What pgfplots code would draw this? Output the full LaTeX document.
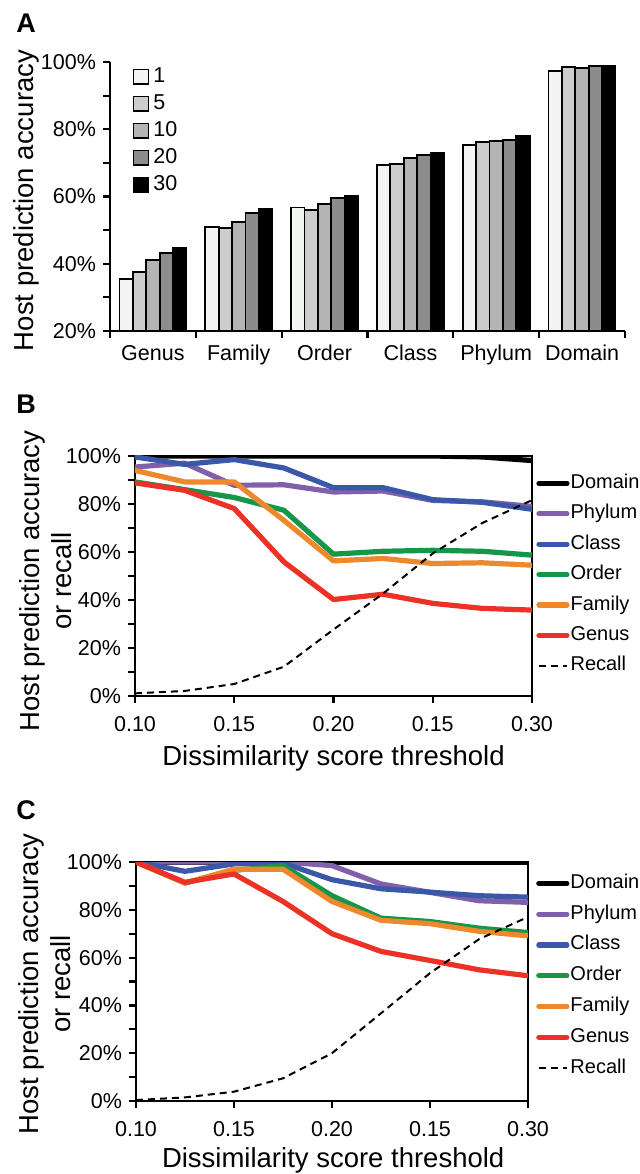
\documentclass[border=0pt]{standalone}
\usepackage{fontspec}
\setmainfont{Liberation Sans}
\usepackage{pgfplots}
\pgfplotsset{compat=1.18}
\definecolor{cPhy}{RGB}{128,96,170}
\definecolor{cCla}{RGB}{59,88,168}
\definecolor{cOrd}{RGB}{22,150,72}
\definecolor{cFam}{RGB}{238,136,44}
\definecolor{cGen}{RGB}{236,50,38}
\definecolor{g1}{RGB}{243,245,243}
\definecolor{g5}{RGB}{205,205,205}
\definecolor{g10}{RGB}{180,180,180}
\definecolor{g20}{RGB}{140,140,140}
\pgfplotsset{
  mystyle/.style={
    scale only axis,
    axis line style={line width=1.2pt},
    tick style={line width=1.1pt, black},
    tick align=outside,
    major tick length=3.5pt,
    minor tick length=3.5pt,
    /pgf/number format/assume math mode=true,
    tick label style={font=\fontsize{10.75}{12}\selectfont},
    label style={font=\fontsize{13.75}{16}\selectfont},
  },
  linestyle/.style={
    ymin=0, ymax=100, xmin=0.1, xmax=0.3,
    xtick={0.1,0.15,0.2,0.25,0.3},
    xticklabels={0.10,0.15,0.20,0.15,0.30},
    xticklabel style={yshift=-3pt},
    ytick={0,20,40,60,80,100}, minor y tick num=1,
    yticklabel={\pgfmathprintnumber{\tick}\%},
    xtick pos=left, ytick pos=left,
    xlabel={Dissimilarity score threshold},
    ylabel={Host prediction accuracy\\or recall},
    legend cell align=left,
    legend image code/.code={\draw[##1] (0pt,0pt) -- (14pt,0pt);},
    every axis plot/.append style={line cap=round, line join=round},
  },
  ser/.style={line width=2.6pt},
}
\begin{document}
\begin{tikzpicture}
\path[use as bounding box] (0,0) rectangle (319.5pt,587pt);
\node[font=\bfseries\fontsize{13.5}{15}\selectfont] at (13pt,575.5pt) {A};
\node[font=\bfseries\fontsize{13.5}{15}\selectfont] at (13pt,385pt) {B};
\node[font=\bfseries\fontsize{13.5}{15}\selectfont] at (13pt,182pt) {C};

% Panel A
\begin{axis}[mystyle,
  at={(55pt,421.5pt)}, anchor=south west,
  width=257.5pt, height=134.5pt,
  ybar=0pt, bar width=6.7pt,
  axis lines*=left,
  ymin=20, ymax=100, ytick={20,40,60,80,100}, minor y tick num=1,
  yticklabel={\pgfmathprintnumber{\tick}\%},
  xmin=-0.5, xmax=5.5,
  xtick={-0.5,0.5,1.5,2.5,3.5,4.5,5.5}, xticklabels={},
  xticklabel style={yshift=-3.5pt},
  extra x ticks={0,1,2,3,4,5},
  extra x tick labels={Genus,Family,Order,Class,Phylum,Domain},
  extra x tick style={major tick length=0pt},
  ylabel={Host prediction accuracy},
  ylabel style={at={(axis description cs:-0.162,0.485)}, anchor=center},
  legend cell align=left,
  legend style={at={(axis description cs:0.043,0.985)}, anchor=north west,
    draw=none, fill=none, font=\fontsize{10.75}{12}\selectfont,
    row sep=3pt, column sep=1.5pt, inner sep=0pt,
    nodes={inner sep=0.5pt, text height=7.5pt, text depth=2pt}},
  legend image code/.code={\draw[#1,/tikz/.cd,line width=0.9pt] (0pt,-3.7pt) rectangle (7.5pt,3.7pt);},
]
\addplot[draw=black, line width=0.9pt, fill=g1] coordinates {(0,35.5) (1,51.0) (2,56.7) (3,69.4) (4,75.3) (5,97.4)};
\addplot[draw=black, line width=0.9pt, fill=g5] coordinates {(0,37.5) (1,50.6) (2,55.9) (3,69.6) (4,76.2) (5,98.5)};
\addplot[draw=black, line width=0.9pt, fill=g10] coordinates {(0,41.2) (1,52.3) (2,57.7) (3,71.4) (4,76.5) (5,98.3)};
\addplot[draw=black, line width=0.9pt, fill=g20] coordinates {(0,43.1) (1,55.0) (2,59.5) (3,72.4) (4,76.9) (5,98.8)};
\addplot[draw=black, line width=0.9pt, fill=black] coordinates {(0,44.6) (1,56.4) (2,60.2) (3,73.0) (4,78.0) (5,98.9)};
\legend{1,5,10,20,30}
\end{axis}

% Panel B
\begin{axis}[mystyle, linestyle,
  at={(67.5pt,239pt)}, anchor=south west,
  width=198.5pt, height=120pt,
  xlabel style={at={(axis description cs:0.5,-0.26)}, anchor=center},
  ylabel style={align=center, at={(axis description cs:-0.226,0.479)}, anchor=center},
  legend style={at={(axis description cs:1.01,0.929)}, anchor=north west,
    draw=none, fill=none, font=\fontsize{10}{11}\selectfont,
    row sep=5.2pt, column sep=0pt, inner sep=0pt,
    nodes={inner sep=0.5pt, text height=7pt, text depth=2pt}},
]
\addplot[ser, black] coordinates {(0.1,100) (0.125,100) (0.15,100) (0.175,100) (0.2,100) (0.225,100) (0.25,100) (0.275,99.6) (0.3,98.1)};
\addplot[ser, cPhy] coordinates {(0.1,95.4) (0.125,97) (0.15,87.8) (0.175,88) (0.2,85) (0.225,85.4) (0.25,81.5) (0.275,80.9) (0.3,79)};
\addplot[ser, cCla] coordinates {(0.1,99.6) (0.125,96.5) (0.15,98.5) (0.175,95) (0.2,86.8) (0.225,86.8) (0.25,81.8) (0.275,80.7) (0.3,77.8)};
\addplot[ser, cOrd] coordinates {(0.1,89.2) (0.125,86) (0.15,82.7) (0.175,77.4) (0.2,59.1) (0.225,60.3) (0.25,60.7) (0.275,60.3) (0.3,58.7)};
\addplot[ser, cFam] coordinates {(0.1,94) (0.125,89.2) (0.15,89.2) (0.175,73.2) (0.2,56.3) (0.225,57.3) (0.25,55.2) (0.275,55.5) (0.3,54.5)};
\addplot[ser, cGen] coordinates {(0.1,88.8) (0.125,85.7) (0.15,78.1) (0.175,55.9) (0.2,40.2) (0.225,42.4) (0.25,38.6) (0.275,36.5) (0.3,35.8)};
\addplot[black, line width=1pt, dash pattern=on 3.5pt off 2.5pt, line cap=butt] coordinates {(0.1,1.1) (0.125,2.1) (0.15,5) (0.175,12.2) (0.2,27.7) (0.225,42.7) (0.25,59.4) (0.275,72.1) (0.3,81.6)};
\legend{Domain,Phylum,Class,Order,Family,Genus,Recall}
\end{axis}

% Panel C
\begin{axis}[mystyle, linestyle,
  at={(68pt,36.5pt)}, anchor=south west,
  width=196pt, height=119.5pt,
  xlabel style={at={(axis description cs:0.503,-0.25)}, anchor=center},
  ylabel style={align=center, at={(axis description cs:-0.232,0.49)}, anchor=center},
  legend style={at={(axis description cs:1.02,0.954)}, anchor=north west,
    draw=none, fill=none, font=\fontsize{10}{11}\selectfont,
    row sep=5.4pt, column sep=0pt, inner sep=0pt,
    nodes={inner sep=0.5pt, text height=7pt, text depth=2pt}},
]
\addplot[ser, black] coordinates {(0.1,100) (0.125,100) (0.15,100) (0.175,100) (0.2,100) (0.225,100) (0.25,100) (0.275,100) (0.3,100)};
\addplot[ser, cPhy] coordinates {(0.1,100) (0.125,100) (0.15,100) (0.175,100) (0.2,98.5) (0.225,90.8) (0.25,87.3) (0.275,83.8) (0.3,83.1)};
\addplot[ser, cCla] coordinates {(0.1,100) (0.125,96.1) (0.15,99.2) (0.175,99.6) (0.2,92.6) (0.225,88.8) (0.25,87.4) (0.275,85.9) (0.3,85.3)};
\addplot[ser, cOrd] coordinates {(0.1,100) (0.125,91.2) (0.15,96.5) (0.175,98.5) (0.2,85.9) (0.225,76.5) (0.25,75.1) (0.275,72.3) (0.3,70.5)};
\addplot[ser, cFam] coordinates {(0.1,100) (0.125,91.2) (0.15,97) (0.175,97) (0.2,83.5) (0.225,75.6) (0.25,74.2) (0.275,71) (0.3,69.1)};
\addplot[ser, cGen] coordinates {(0.1,100) (0.125,91.5) (0.15,95) (0.175,83.5) (0.2,70) (0.225,62.6) (0.25,58.8) (0.275,54.9) (0.3,52.4)};
\addplot[black, line width=1pt, dash pattern=on 3.5pt off 2.5pt, line cap=butt] coordinates {(0.1,0.4) (0.125,1.5) (0.15,3.9) (0.175,9.5) (0.2,20) (0.225,36.7) (0.25,53.5) (0.275,67.7) (0.3,77)};
\legend{Domain,Phylum,Class,Order,Family,Genus,Recall}
\end{axis}
\end{tikzpicture}
\end{document}
